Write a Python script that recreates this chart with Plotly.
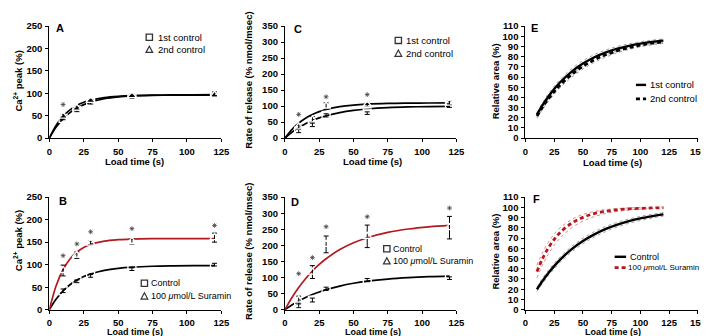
import plotly.graph_objects as go

# ---------------- data ----------------
load_time = [10, 20, 30, 60, 120]

a_first = [44, 62, 79, 92, 99]
a_first_err = [3, 3, 3, 3, 4]
a_second = [49, 67, 84, 95, 96]
a_second_err = [4, 3, 3, 3, 3]
a_star_x = [10]
a_star_y = [75]

b_control = [42, 63, 75, 90, 100]
b_control_err = [4, 3, 3, 3, 3]
b_suramin = [87, 121, 148, 152, 160]
b_suramin_err = [12, 7, 4, 6, 10]
b_star_x = [10, 20, 30, 60, 120]
b_star_y = [120, 146, 173, 180, 187]

c_first = [22, 42, 71, 78, 100]
c_first_err = [5, 6, 5, 4, 4]
c_second = [35, 57, 100, 104, 109]
c_second_err = [6, 10, 10, 5, 6]
c_star_x = [10, 30, 60]
c_star_y = [74, 129, 136]

d_control = [14, 30, 65, 92, 98]
d_control_err = [8, 6, 5, 5, 4]
d_suramin = [30, 117, 203, 228, 255]
d_suramin_err = [12, 20, 26, 35, 35]
d_star_x = [10, 20, 30, 60, 120]
d_star_y = [112, 162, 258, 289, 316]

fit_t = [0, 5, 10, 15, 20, 25, 30, 40, 50, 60, 75, 90, 105, 120]
a_fit_first = [0, 24.7, 43.1, 56.8, 67.1, 74.7, 80.4, 87.8, 91.9, 94.2, 95.8, 96.5, 96.8, 96.9]
a_fit_second = [0, 28.8, 49.0, 63.1, 73.0, 79.9, 84.8, 90.5, 93.3, 94.7, 95.5, 95.8, 95.9, 96.0]
b_fit_control = [0, 23.8, 41.8, 55.4, 65.7, 73.6, 79.5, 87.4, 91.9, 94.5, 96.5, 97.3, 97.7, 97.9]
b_fit_suramin = [0, 53.9, 89.3, 112.7, 128.1, 138.3, 145.0, 152.4, 155.5, 156.9, 157.7, 157.9, 158.0, 158.0]
c_fit_first = [0, 18.1, 33.0, 45.1, 55.1, 63.2, 69.9, 79.8, 86.5, 90.9, 95.0, 97.3, 98.5, 99.2]
c_fit_second = [0, 26.7, 46.9, 62.2, 73.8, 82.6, 89.2, 98.1, 103.2, 106.0, 108.3, 109.3, 109.7, 109.9]
d_fit_control = [0, 14.4, 26.9, 37.7, 47.0, 55.1, 62.2, 73.5, 82.1, 88.6, 95.3, 99.7, 102.6, 104.5]
d_fit_suramin = [0, 37.0, 68.9, 96.4, 120.2, 140.6, 158.3, 186.8, 208.0, 223.8, 240.3, 250.9, 257.7, 262.1]

area_t = [10, 15, 20, 25, 30, 40, 50, 60, 70, 80, 90, 100, 110, 120]
e_first = [23.1, 32.6, 40.9, 48.2, 54.6, 65.1, 73.2, 79.4, 84.2, 87.8, 90.6, 92.8, 94.5, 95.7]
e_first_hi = [25.0, 35.0, 43.6, 51.0, 57.4, 68.0, 76.0, 82.0, 86.6, 90.0, 92.6, 94.6, 96.2, 97.4]
e_first_lo = [21.2, 30.2, 38.2, 45.4, 51.8, 62.2, 70.4, 76.8, 81.8, 85.6, 88.6, 91.0, 92.8, 94.0]
e_second = [21.6, 30.6, 38.6, 45.7, 51.9, 62.3, 70.5, 76.9, 81.9, 85.8, 88.9, 91.3, 93.2, 94.6]
e_second_hi = [23.6, 33.0, 41.2, 48.4, 54.6, 65.0, 73.2, 79.4, 84.2, 87.8, 90.8, 93.0, 94.8, 96.2]
e_second_lo = [19.6, 28.2, 36.0, 43.0, 49.2, 59.6, 67.8, 74.4, 79.6, 83.8, 87.0, 89.6, 91.6, 93.0]

f_control = [19.9, 28.3, 35.9, 42.6, 48.7, 58.9, 67.1, 73.6, 78.9, 83.1, 86.5, 89.2, 91.3, 93.1]
f_control_hi = [22.0, 30.8, 38.6, 45.4, 51.4, 61.6, 69.8, 76.2, 81.4, 85.4, 88.6, 91.2, 93.2, 94.8]
f_control_lo = [17.8, 25.8, 33.2, 39.8, 46.0, 56.2, 64.4, 71.0, 76.4, 80.8, 84.4, 87.2, 89.4, 91.4]
f_suramin = [37.2, 50.2, 60.5, 68.7, 75.2, 84.4, 90.2, 93.9, 96.1, 97.6, 98.5, 99.0, 99.4, 99.6]
f_suramin_hi = [43.5, 56.0, 66.0, 73.8, 79.8, 88.0, 93.0, 96.0, 97.8, 98.8, 99.4, 99.8, 100.0, 100.2]
f_suramin_lo = [31.0, 44.0, 54.5, 63.0, 69.8, 79.8, 86.5, 91.0, 94.0, 96.0, 97.4, 98.2, 98.8, 99.1]

# ---------------- styling ----------------
W, H = 709, 336
FONT = "Liberation Sans, Arial, sans-serif"
RED = "#b3191e"
RED_LIGHT = "#d96a6a"
GREY = "#8a8a8a"
MK = "#333333"


def px(x):
    return x / W


def py(y):
    return 1 - y / H


fig = go.Figure()


def markers(xa, ya, x, y, err, symbol, size=8):
    fig.add_trace(go.Scatter(
        x=x, y=y, mode="markers", xaxis=xa, yaxis=ya, showlegend=False,
        marker=dict(symbol=symbol, size=size, color="white", line=dict(color=MK, width=1.3)),
        error_y=dict(type="data", array=err, color="black", thickness=1, width=2.5)))


def curve(xa, ya, x, y, color="black", width=1.7, dash="solid"):
    fig.add_trace(go.Scatter(
        x=x, y=y, mode="lines", xaxis=xa, yaxis=ya, showlegend=False,
        line=dict(color=color, width=width, dash=dash, shape="spline")))


def stars(xa, ya, x, y):
    fig.add_trace(go.Scatter(
        x=x, y=y, mode="markers", xaxis=xa, yaxis=ya, showlegend=False,
        marker=dict(symbol="asterisk-open", size=4, color="#444444",
                    line=dict(color="#444444", width=0.8))))


# Panel A
curve("x", "y", fit_t, a_fit_first)
curve("x", "y", fit_t, a_fit_second)
markers("x", "y", load_time, a_first, a_first_err, "square-open")
markers("x", "y", load_time, a_second, a_second_err, "triangle-up-open")
stars("x", "y", a_star_x, a_star_y)

# Panel B
curve("x2", "y2", fit_t, b_fit_control)
curve("x2", "y2", fit_t, b_fit_suramin, color=RED)
markers("x2", "y2", load_time, b_control, b_control_err, "square-open")
markers("x2", "y2", load_time, b_suramin, b_suramin_err, "triangle-up-open")
stars("x2", "y2", b_star_x, b_star_y)

# Panel C
curve("x3", "y3", fit_t, c_fit_first)
curve("x3", "y3", fit_t, c_fit_second)
markers("x3", "y3", load_time, c_first, c_first_err, "square-open")
markers("x3", "y3", load_time, c_second, c_second_err, "triangle-up-open")
stars("x3", "y3", c_star_x, c_star_y)

# Panel D
curve("x4", "y4", fit_t, d_fit_control)
curve("x4", "y4", fit_t, d_fit_suramin, color=RED)
markers("x4", "y4", load_time, d_control, d_control_err, "square-open")
markers("x4", "y4", load_time, d_suramin, d_suramin_err, "triangle-up-open")
stars("x4", "y4", d_star_x, d_star_y)

# Panel E
for band in (e_first_hi, e_first_lo, e_second_hi, e_second_lo):
    curve("x5", "y5", area_t, band, color=GREY, width=0.8, dash="dot")
curve("x5", "y5", area_t, e_first, width=2.4)
curve("x5", "y5", area_t, e_second, width=2.8, dash="4px,3px")

# Panel F
for band in (f_control_hi, f_control_lo):
    curve("x6", "y6", area_t, band, color=GREY, width=0.8, dash="dot")
for band in (f_suramin_hi, f_suramin_lo):
    curve("x6", "y6", area_t, band, color=RED_LIGHT, width=0.8, dash="dot")
curve("x6", "y6", area_t, f_control, width=2.4)
curve("x6", "y6", area_t, f_suramin, color=RED, width=2.8, dash="4px,3px")


def axis(domain, anchor, rng, dtick):
    return dict(domain=domain, anchor=anchor, range=rng, dtick=dtick, tick0=0,
                showline=True, linecolor="black", linewidth=1.2, ticks="outside",
                ticklen=3, tickwidth=1, tickcolor="black", showgrid=False, zeroline=False,
                ticklabelstandoff=1,
                tickfont=dict(family=FONT, size=9.5, color="black", weight="bold"),
                fixedrange=True)


xl = [px(39), px(214)]
xm = [px(278.7), px(453)]
xr = [px(523.3), px(698.7)]
yt = [py(128.3), py(12.5)]
yb = [py(305.7), py(189.3)]

fig.update_layout(
    width=W, height=H, margin=dict(l=0, r=0, t=0, b=0),
    paper_bgcolor="white", plot_bgcolor="white",
    xaxis=axis(xl, "y", [0, 125], 25), yaxis=axis(yt, "x", [0, 250], 50),
    xaxis2=axis(xl, "y2", [0, 125], 25), yaxis2=axis(yb, "x2", [0, 250], 50),
    xaxis3=axis(xm, "y3", [0, 125], 25), yaxis3=axis(yt, "x3", [0, 350], 50),
    xaxis4=axis(xm, "y4", [0, 125], 25), yaxis4=axis(yb, "x4", [0, 350], 50),
    xaxis5=axis(xr, "y5", [0, 150], 25), yaxis5=axis(yt, "x5", [0, 110], 10),
    xaxis6=axis(xr, "y6", [0, 150], 25), yaxis6=axis(yb, "x6", [0, 110], 10),
)

ann = []


def text(x, y, s, size=9, bold=False, angle=0, xanchor="center", color="black"):
    ann.append(dict(x=px(x), y=py(y), xref="paper", yref="paper", text=s, showarrow=False,
                    textangle=angle, xanchor=xanchor, yanchor="middle", borderpad=0,
                    font=dict(family=FONT, size=size, color=color,
                              weight="bold" if bold else "normal")))


# panel letters
text(50, 14, "A", size=11, bold=True)
text(53, 193, "B", size=11, bold=True)
text(292, 15, "C", size=11, bold=True)
text(289, 194, "D", size=11, bold=True)
text(533, 14, "E", size=11, bold=True)
text(535, 191, "F", size=11, bold=True)

# axis titles
text(126, 152, "Load time (s)", size=9.5, bold=True)
text(126, 328.5, "Load time (s)", size=9, bold=True)
text(368, 153, "Load time (s)", size=9.5, bold=True)
text(368, 328.5, "Load time (s)", size=9, bold=True)
text(612, 154, "Load time (s)", size=9.5, bold=True)
text(612, 328.5, "Load time (s)", size=9, bold=True)
text(7, 69, "Ca<sup>2+</sup> peak (%)", size=9.5, bold=True, angle=-90)
text(7, 234, "Ca<sup>2+</sup> peak (%)", size=9.5, bold=True, angle=-90)
text(242, 68, "Rate of release (% nmol/msec)", size=9.5, bold=True, angle=-90)
text(242, 245, "Rate of release (% nmol/msec)", size=9.5, bold=True, angle=-90)
text(493, 70, "Relative area (%)", size=9.5, bold=True, angle=-90)
text(493, 246, "Relative area (%)", size=9.5, bold=True, angle=-90)

shapes = []


def sq(x, y, s=3.2):
    shapes.append(dict(type="rect", xref="paper", yref="paper",
                       x0=px(x - s), x1=px(x + s), y0=py(y + s), y1=py(y - s),
                       line=dict(color=MK, width=1.3), fillcolor="white"))


def tri(x, y, s=3.4):
    path = "M %f,%f L %f,%f L %f,%f Z" % (px(x - s), py(y + s * 0.8), px(x + s), py(y + s * 0.8),
                                          px(x), py(y - s * 1.1))
    shapes.append(dict(type="path", xref="paper", yref="paper", path=path,
                       line=dict(color=MK, width=1.2), fillcolor="white"))


def seg(x0, x1, y, color="black", width=2.4, dash="solid"):
    shapes.append(dict(type="line", xref="paper", yref="paper", x0=px(x0), x1=px(x1),
                       y0=py(y), y1=py(y), line=dict(color=color, width=width, dash=dash)))


# legends
sq(140.7, 24); text(149, 24, "1st control", size=9.5, xanchor="left")
tri(140.7, 37); text(149, 37, "2nd control", size=9.5, xanchor="left")

sq(135.7, 278.3); text(141, 278.3, "Control", xanchor="left")
tri(135.7, 292); text(141, 292, "100 <i>μ</i>mol/L Suramin", xanchor="left")

sq(394, 27.3); text(401, 27.3, "1st control", size=9.5, xanchor="left")
tri(394, 41); text(401, 41, "2nd control", size=9.5, xanchor="left")

sq(382.3, 242.7); text(387.5, 242.7, "Control", xanchor="left")
tri(382.3, 255.7); text(387.5, 255.7, "100 <i>μ</i>mol/L Suramin", xanchor="left")

seg(635.7, 646, 73.3); text(649, 73.3, "1st control", size=9.5, xanchor="left")
seg(635.7, 646, 87.7, width=2.8, dash="4px,3px"); text(649, 87.7, "2nd control", size=9.5, xanchor="left")

seg(614, 625.7, 251); text(628.5, 251, "Control", xanchor="left")
seg(614, 625.7, 262.3, color=RED, width=2.8, dash="4px,3px")
text(626.5, 262.3, "100 <i>μ</i>mol/L Suramin", size=8, xanchor="left")

fig.update_layout(annotations=ann, shapes=shapes)

fig.write_html("out.html")
